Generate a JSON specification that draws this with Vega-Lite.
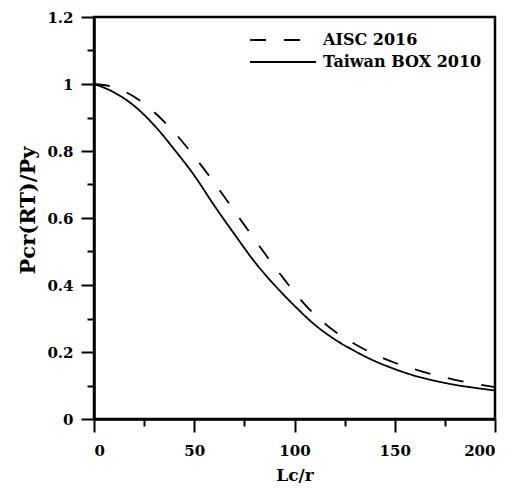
{
  "$schema": "https://vega.github.io/schema/vega-lite/v6.json",
  "width": 401,
  "height": 402,
  "autosize": {"type": "none"},
  "padding": {"left": 94, "top": 17, "right": 17, "bottom": 74},
  "background": "white",
  "config": {
    "view": {"stroke": "black", "strokeWidth": 2.5},
    "font": "DejaVu Serif",
    "axis": {
      "grid": false,
      "domainColor": "black",
      "domainWidth": 2.5,
      "tickColor": "black",
      "tickWidth": 2,
      "labelFont": "DejaVu Serif",
      "labelFontWeight": "bold",
      "labelFontSize": 15,
      "labelColor": "black",
      "titleFont": "DejaVu Serif",
      "titleFontWeight": "bold",
      "titleColor": "black"
    },
    "legend": {
      "labelFont": "DejaVu Serif",
      "labelFontWeight": "bold",
      "labelFontSize": 16,
      "labelColor": "black"
    }
  },
  "data": {
    "values": [
      {"slenderness": 0, "ratio": 1.0, "code": "AISC 2016"},
      {"slenderness": 10, "ratio": 0.99, "code": "AISC 2016"},
      {"slenderness": 20, "ratio": 0.962, "code": "AISC 2016"},
      {"slenderness": 30, "ratio": 0.916, "code": "AISC 2016"},
      {"slenderness": 40, "ratio": 0.856, "code": "AISC 2016"},
      {"slenderness": 50, "ratio": 0.784, "code": "AISC 2016"},
      {"slenderness": 60, "ratio": 0.705, "code": "AISC 2016"},
      {"slenderness": 70, "ratio": 0.621, "code": "AISC 2016"},
      {"slenderness": 80, "ratio": 0.537, "code": "AISC 2016"},
      {"slenderness": 90, "ratio": 0.455, "code": "AISC 2016"},
      {"slenderness": 95, "ratio": 0.416, "code": "AISC 2016"},
      {"slenderness": 100, "ratio": 0.378, "code": "AISC 2016"},
      {"slenderness": 105, "ratio": 0.343, "code": "AISC 2016"},
      {"slenderness": 110, "ratio": 0.312, "code": "AISC 2016"},
      {"slenderness": 120, "ratio": 0.262, "code": "AISC 2016"},
      {"slenderness": 130, "ratio": 0.224, "code": "AISC 2016"},
      {"slenderness": 140, "ratio": 0.193, "code": "AISC 2016"},
      {"slenderness": 150, "ratio": 0.168, "code": "AISC 2016"},
      {"slenderness": 160, "ratio": 0.148, "code": "AISC 2016"},
      {"slenderness": 170, "ratio": 0.131, "code": "AISC 2016"},
      {"slenderness": 180, "ratio": 0.117, "code": "AISC 2016"},
      {"slenderness": 190, "ratio": 0.105, "code": "AISC 2016"},
      {"slenderness": 200, "ratio": 0.095, "code": "AISC 2016"},
      {"slenderness": 0, "ratio": 1.0, "code": "Taiwan BOX 2010"},
      {"slenderness": 10, "ratio": 0.975, "code": "Taiwan BOX 2010"},
      {"slenderness": 20, "ratio": 0.935, "code": "Taiwan BOX 2010"},
      {"slenderness": 30, "ratio": 0.877, "code": "Taiwan BOX 2010"},
      {"slenderness": 40, "ratio": 0.805, "code": "Taiwan BOX 2010"},
      {"slenderness": 50, "ratio": 0.727, "code": "Taiwan BOX 2010"},
      {"slenderness": 60, "ratio": 0.637, "code": "Taiwan BOX 2010"},
      {"slenderness": 70, "ratio": 0.552, "code": "Taiwan BOX 2010"},
      {"slenderness": 80, "ratio": 0.47, "code": "Taiwan BOX 2010"},
      {"slenderness": 90, "ratio": 0.4, "code": "Taiwan BOX 2010"},
      {"slenderness": 100, "ratio": 0.338, "code": "Taiwan BOX 2010"},
      {"slenderness": 110, "ratio": 0.282, "code": "Taiwan BOX 2010"},
      {"slenderness": 120, "ratio": 0.238, "code": "Taiwan BOX 2010"},
      {"slenderness": 130, "ratio": 0.203, "code": "Taiwan BOX 2010"},
      {"slenderness": 140, "ratio": 0.173, "code": "Taiwan BOX 2010"},
      {"slenderness": 150, "ratio": 0.149, "code": "Taiwan BOX 2010"},
      {"slenderness": 160, "ratio": 0.129, "code": "Taiwan BOX 2010"},
      {"slenderness": 170, "ratio": 0.114, "code": "Taiwan BOX 2010"},
      {"slenderness": 180, "ratio": 0.102, "code": "Taiwan BOX 2010"},
      {"slenderness": 190, "ratio": 0.093, "code": "Taiwan BOX 2010"},
      {"slenderness": 200, "ratio": 0.085, "code": "Taiwan BOX 2010"}
    ]
  },
  "layer": [
    {
      "mark": {"type": "line", "strokeWidth": 1.8, "color": "black", "interpolate": "monotone"},
      "encoding": {
        "x": {
          "field": "slenderness", "type": "quantitative",
          "scale": {"domain": [0, 200], "nice": false},
          "axis": {
            "orient": "bottom", "values": [0, 50, 100, 150, 200], "format": "d",
            "tickSize": 13, "labelPadding": 11,
            "title": "Lc/r", "titleFontSize": 17, "titleY": 61, "titleBaseline": "alphabetic"
          }
        },
        "y": {
          "field": "ratio", "type": "quantitative",
          "scale": {"domain": [0, 1.2], "nice": false},
          "axis": {
            "orient": "left", "values": [0, 0.2, 0.4, 0.6, 0.8, 1, 1.2], "format": ".1~f",
            "tickSize": 13, "labelPadding": 8,
            "title": "Pcr(RT)/Py", "titleFontSize": 21, "titleX": -60, "titleY": 193,
            "titleBaseline": "alphabetic", "titleAngle": -90
          }
        },
        "strokeDash": {
          "field": "code", "type": "nominal",
          "scale": {"domain": ["AISC 2016", "Taiwan BOX 2010"], "range": [[16, 18], [1, 0]]},
          "legend": {
            "title": null,
            "orient": "none",
            "legendX": 155,
            "legendY": 12,
            "padding": 0,
            "symbolType": "M-1,0H5.6",
            "symbolSize": 400,
            "symbolStrokeColor": "black",
            "symbolStrokeWidth": 1.8,
            "labelOffset": 52,
            "rowPadding": 3
          }
        }
      }
    },
    {
      "mark": {"type": "line", "opacity": 0},
      "encoding": {
        "x": {
          "field": "slenderness", "type": "quantitative",
          "axis": {"orient": "bottom", "values": [25, 75, 125, 175], "labels": false, "domain": false, "tickSize": 7, "title": null}
        },
        "y": {
          "field": "ratio", "type": "quantitative",
          "axis": {"orient": "left", "values": [0.1, 0.3, 0.5, 0.7, 0.9, 1.1], "labels": false, "domain": false, "tickSize": 7, "title": null}
        },
        "detail": {"field": "code", "type": "nominal"}
      }
    }
  ],
  "resolve": {"axis": {"x": "independent", "y": "independent"}}
}
